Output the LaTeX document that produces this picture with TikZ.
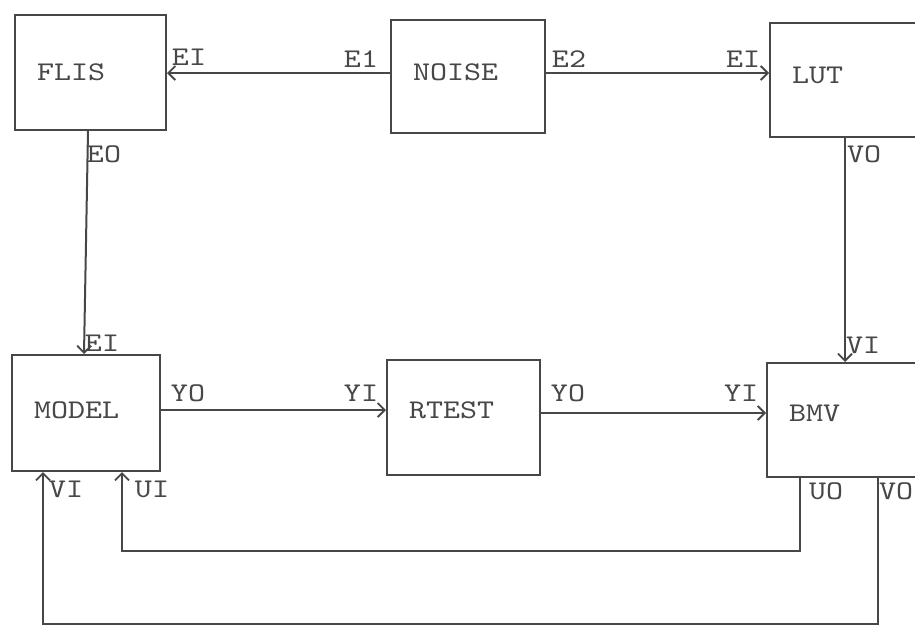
\documentclass[tikz,border=0pt]{standalone}
\usepackage{fontspec}
\newfontfamily\tw{lmmono10-regular.otf}[FakeStretch=1.2]
\usetikzlibrary{arrows.meta}
\definecolor{ink}{HTML}{474747}
\tikzset{
  box/.style={draw=ink, line width=2pt, minimum height=115pt, text width=#1, inner xsep=22pt, inner ysep=0pt, align=left, text=ink, text height=16pt, font=\tw\fontsize{27}{30}\selectfont},
  lbl/.style={inner sep=0pt, text=ink, font=\tw\fontsize{27}{30}\selectfont},
  wire/.style={draw=ink, line width=2pt},
  arr/.style={wire, -{Straight Barb[length=7pt,width=14pt,line width=1.8pt]}}
}
\begin{document}
\begin{tikzpicture}[x=1pt,y=-1pt]
\useasboundingbox (0,0) rectangle (915,627);
% boxes
\node[box=107pt, minimum height=115pt, text depth=1pt] (FLIS)  at (90.5,72.5) {FLIS};
\node[box=110pt, minimum height=113pt, text depth=9pt] (NOISE) at (468,76.5) {NOISE};
\node[box=111pt, minimum height=114pt, text depth=10pt] (LUT)   at (847.5,80) {LUT};
\node[box=104pt, minimum height=116pt, text depth=6pt] (MODEL) at (86,413) {MODEL};
\node[box=109pt, minimum height=115pt, text depth=15pt] (RTEST) at (463.5,417.5) {RTEST};
\node[box=114pt, minimum height=114pt, text depth=14pt] (BMV)   at (846,420) {BMV};
% connectors
\draw[arr] ([yshift=3.5pt]NOISE.west) -- ([yshift=-0.5pt]FLIS.east);
\draw[arr] ([yshift=3.5pt]NOISE.east) -- ([yshift=7pt]LUT.west);
\draw[arr] ([xshift=-2.5pt]FLIS.south) -- ([xshift=-2pt]MODEL.north);
\draw[arr] ([xshift=-2.5pt]LUT.south) -- ([xshift=-1pt]BMV.north);
\draw[arr] ([yshift=3pt]MODEL.east) -- ([yshift=7.5pt]RTEST.west);
\draw[arr] ([yshift=4.5pt]RTEST.east) -- ([yshift=7pt]BMV.west);
\draw[arr] ([xshift=-46pt]BMV.south) -- ++(0,73) -| ([xshift=36pt]MODEL.south);
\draw[arr] ([xshift=32pt]BMV.south) -- ++(0,146) -| ([xshift=-43pt]MODEL.south);
% port labels
\node[lbl] (l1) at (361,59) {E1};
\node[lbl] (l2) at (189,57) {EI};
\node[lbl] (l3) at (569,59) {E2};
\node[lbl] (l4) at (743,59) {EI};
\node[lbl] (l5) at (104,154) {EO};
\node[lbl] (l6) at (102,343) {EI};
\node[lbl] (l7) at (864,154) {VO};
\node[lbl] (l8) at (863,345) {VI};
\node[lbl] (l9) at (188,393) {YO};
\node[lbl] (l10) at (361,393) {YI};
\node[lbl] (l11) at (568,393) {YO};
\node[lbl] (l12) at (741,393) {YI};
\node[lbl] (l13) at (66,489) {VI};
\node[lbl] (l14) at (152,489) {UI};
\node[lbl] (l15) at (826,491) {UO};
\node[lbl] (l16) at (896,491) {VO};
\end{tikzpicture}
\end{document}
